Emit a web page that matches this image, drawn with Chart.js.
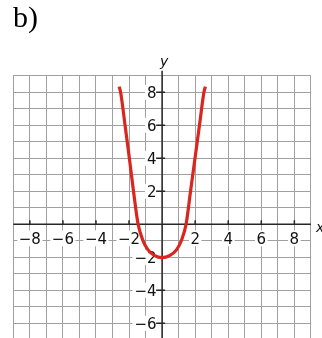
<!DOCTYPE html>
<html>
<head>
<meta charset="utf-8">
<script src="https://cdn.jsdelivr.net/npm/chart.js@4/dist/chart.umd.min.js"></script>
<style>
    html, body { margin: 0; padding: 0; background: #fff; overflow: hidden; }
    #wrap { position: relative; width: 322px; height: 338px; overflow: hidden; }
    canvas { display: block; }
</style>
</head>
<body>
<div id="wrap"><canvas id="graph" width="322" height="350"></canvas></div>
<script>
// curve
const curveX = [-2.6, -2.51, -2.24, -1.98, -1.73, -1.45, -1.15, -0.85, -0.45, 0, 0.45, 0.87, 1.16, 1.45, 1.72, 1.99, 2.26, 2.53, 2.62]
const curveY = [8.35, 8, 6, 4, 2, 0, -1, -1.55, -1.9, -2.02, -1.9, -1.55, -1, 0, 2, 4, 6, 8, 8.35]

// axis ranges and labelled ticks
const xRange = [-9, 9]
const yRange = [-7, 9]
const xTicks = [-8, -6, -4, -2, 2, 4, 6, 8]
const yTicks = [-6, -4, -2, 2, 4, 6, 8]

const fmt = v => v < 0 ? "\u2212" + Math.abs(v) : String(v)

const axesPlugin = {
    id: "axes",
    beforeDatasetsDraw(chart) {
        const { ctx, chartArea: a, scales: { x, y } } = chart
        const x0 = x.getPixelForValue(0)
        const y0 = y.getPixelForValue(0)
        ctx.save()
        ctx.font = '15px "DejaVu Sans"'

        // white boxes behind the numbers
        ctx.fillStyle = "#fff"
        xTicks.forEach(v => {
            const w = ctx.measureText(fmt(v)).width
            ctx.fillRect(x.getPixelForValue(v) - w / 2 - 1.5, y0 + 6, w + 3, 16)
        })
        yTicks.forEach(v => {
            const w = ctx.measureText(fmt(v)).width
            ctx.fillRect(x0 - 5.5 - w - 2, y.getPixelForValue(v) - 7.5, w + 2.5, 15)
        })

        // axes
        ctx.strokeStyle = "#262626"
        ctx.lineWidth = 1.5
        ctx.beginPath()
        ctx.moveTo(a.left, y0); ctx.lineTo(a.right, y0)
        ctx.moveTo(x0, a.top - 5); ctx.lineTo(x0, a.bottom)
        xTicks.forEach(v => {
            const px = x.getPixelForValue(v)
            ctx.moveTo(px, y0 - 4); ctx.lineTo(px, y0)
        })
        yTicks.forEach(v => {
            const py = y.getPixelForValue(v)
            ctx.moveTo(x0 - 6, py); ctx.lineTo(x0 + 3, py)
        })
        ctx.stroke()

        // numbers
        ctx.fillStyle = "#111"
        ctx.textBaseline = "alphabetic"
        ctx.textAlign = "center"
        xTicks.forEach(v => ctx.fillText(fmt(v), x.getPixelForValue(v), y0 + 19.3))
        ctx.textAlign = "right"
        yTicks.forEach(v => ctx.fillText(fmt(v), x0 - 5.5, y.getPixelForValue(v) + 5.5))

        // axis names
        ctx.font = 'italic 14px "DejaVu Sans"'
        ctx.textAlign = "center"
        ctx.fillText("y", x0 + 2, a.top - 9.5)
        ctx.textAlign = "left"
        ctx.fillText("x", a.right + 5, y0 + 8)

        // part label
        ctx.font = '30px "Liberation Serif"'
        ctx.fillStyle = "#000"
        ctx.fillText("b)", 13, 27)
        ctx.restore()
    }
}

const gridOpts = {
    color: "#a0a0a0",
    lineWidth: 1,
    drawTicks: false
}

new Chart(document.getElementById("graph"), {
    type: "scatter",
    data: {
        datasets: [{
            data: curveX.map((v, i) => ({ x: v, y: curveY[i] })),
            showLine: true,
            borderColor: "#d9261e",
            borderWidth: 3.2,
            pointRadius: 0,
            cubicInterpolationMode: "monotone"
        }]
    },
    options: {
        responsive: false,
        devicePixelRatio: 1,
        animation: false,
        layout: { padding: { left: 13.3, right: 11.1, top: 75.8, bottom: 10.2 } },
        plugins: { legend: { display: false }, tooltip: { enabled: false } },
        scales: {
            x: {
                type: "linear",
                min: xRange[0], max: xRange[1],
                ticks: { display: false, stepSize: 1 },
                grid: gridOpts,
                border: { display: false }
            },
            y: {
                type: "linear",
                min: yRange[0], max: yRange[1],
                ticks: { display: false, stepSize: 1 },
                grid: gridOpts,
                border: { display: false }
            }
        }
    },
    plugins: [axesPlugin]
})
</script>
</body>
</html>
